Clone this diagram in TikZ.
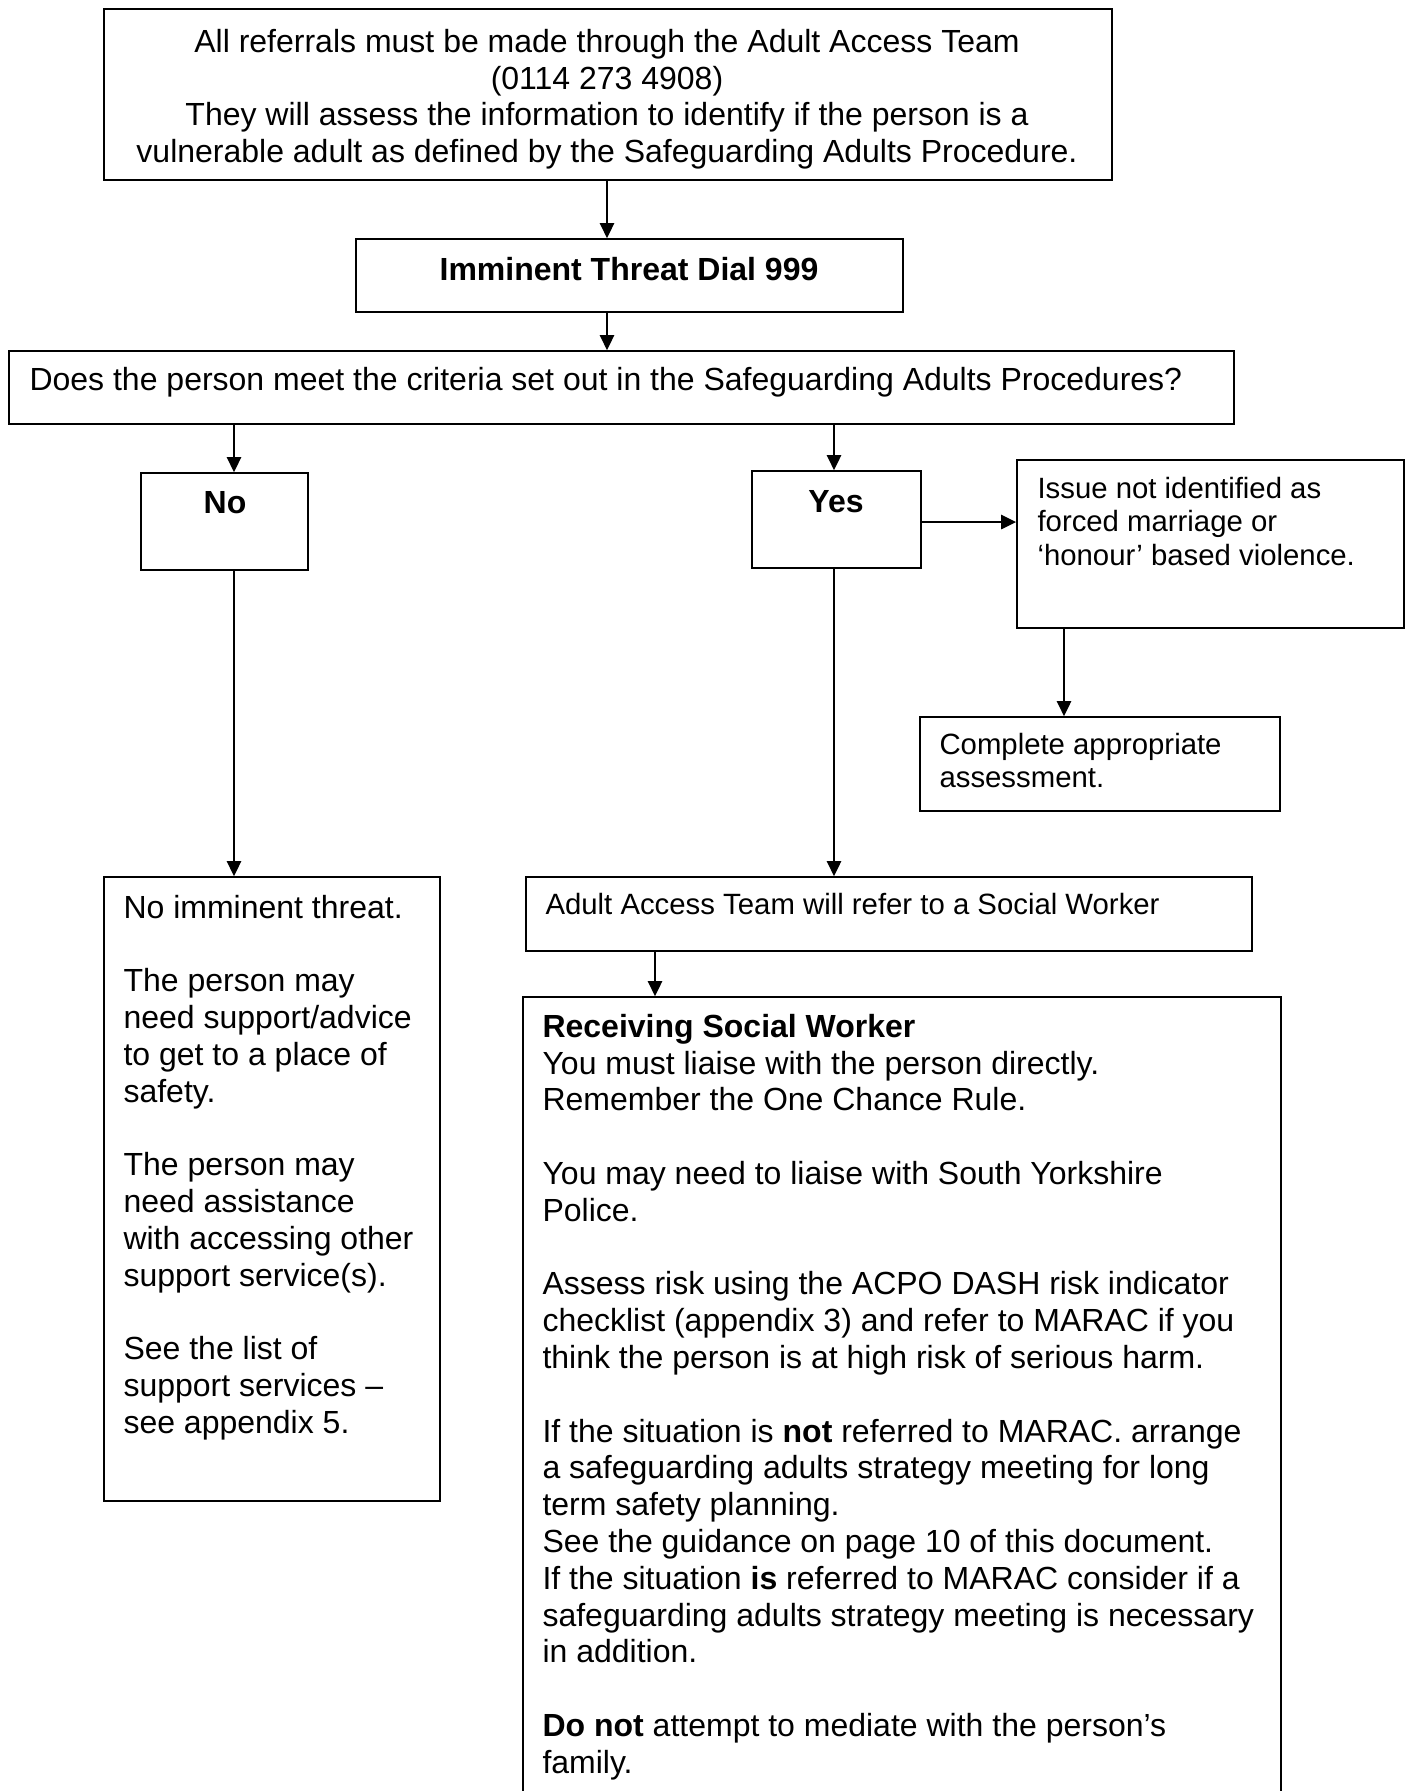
\documentclass[tikz,border=0pt]{standalone}
\usepackage{fontspec}
\setmainfont{Liberation Sans}
\usetikzlibrary{arrows.meta,fit}
\begin{document}
\begin{tikzpicture}[x=0.375pt,y=-0.375pt,
  box/.style={draw,line width=0.7pt,inner sep=0pt},
  txt/.style={inner sep=0pt,font=\fontsize{12}{13.8}\selectfont},
  stxt/.style={inner sep=0pt,font=\fontsize{11}{12.65}\selectfont},
  arr/.style={line width=0.6pt,-{Triangle[length=5.6pt,width=5.4pt]}}]
\useasboundingbox[fill=white] (0,0) rectangle (1411,1791);
% boxes
\node[box,fit={(104,9) (1112,180)}] (top) {};
\node[box,fit={(356,239) (903,312)}] (imm) {};
\node[box,fit={(9,351) (1234,424)}] (crit) {};
\node[box,fit={(141,473) (308,570)}] (no) {};
\node[box,fit={(752,471) (921,568)}] (yes) {};
\node[box,fit={(1017,460) (1404,628)}] (issue) {};
\node[box,fit={(920,717) (1280,811)}] (compl) {};
\node[box,fit={(104,877) (440,1501)}] (noimm) {};
\node[box,fit={(526,877) (1252,951)}] (aat) {};
\node[box,fit={(523,997) (1281,1810)}] (rsw) {};
% texts
\node[txt,anchor=north,align=center] (ttop) at (607,26)
  {\strut All referrals must be made through the Adult Access Team\\
   (0114 273 4908)\\
   They will assess the information to identify if the person is a\\
   vulnerable adult as defined by the Safeguarding Adults Procedure.};
\node[txt,anchor=base,font=\fontsize{12}{13.8}\selectfont\bfseries] (timm) at (629,280) {Imminent Threat Dial 999};
\node[txt,anchor=base west] (tcrit) at (29,390) {Does the person meet the criteria set out in the Safeguarding Adults Procedures?};
\node[txt,anchor=base,font=\fontsize{12}{13.8}\selectfont\bfseries] (tno) at (225,513) {No};
\node[txt,anchor=base,font=\fontsize{12}{13.8}\selectfont\bfseries] (tyes) at (836,512) {Yes};
\node[stxt,anchor=north west,align=left] (tissue) at (1037,474)
  {\strut Issue not identified as\\ forced marriage or\\ ‘honour’ based violence.};
\node[stxt,anchor=north west,align=left] (tcompl) at (939,730)
  {\strut Complete appropriate\\ assessment.};
\node[txt,anchor=north west,align=left] (tnoimm) at (123,892)
  {\strut No imminent threat.\\[13.8pt]
   The person may\\
   need support/advice\\
   to get to a place of\\
   safety.\\[13.8pt]
   The person may\\
   need assistance\\
   with accessing other\\
   support service(s).\\[13.8pt]
   See the list of\\
   support services –\\
   see appendix 5.};
\node[stxt,anchor=base west] (taat) at (545,914) {Adult Access Team will refer to a Social Worker};
\node[txt,anchor=north west,align=left] (trsw) at (542,1011)
  {\strut\textbf{Receiving Social Worker}\\
   You must liaise with the person directly.\\
   Remember the One Chance Rule.\\[13.8pt]
   You may need to liaise with South Yorkshire\\
   Police.\\[13.8pt]
   Assess risk using the ACPO DASH risk indicator\\
   checklist (appendix 3) and refer to MARAC if you\\
   think the person is at high risk of serious harm.\\[13.8pt]
   If the situation is \textbf{not} referred to MARAC. arrange\\
   a safeguarding adults strategy meeting for long\\
   term safety planning.\\
   See the guidance on page 10 of this document.\\
   If the situation \textbf{is} referred to MARAC consider if a\\
   safeguarding adults strategy meeting is necessary\\
   in addition.\\[13.8pt]
   \textbf{Do not} attempt to mediate with the person’s\\
   family.};
% connectors
\draw[arr] (607,0 |- top.south) -- (607,0 |- imm.north);
\draw[arr] (607,0 |- imm.south) -- (607,0 |- crit.north);
\draw[arr] (234,0 |- crit.south) -- (234,0 |- no.north);
\draw[arr] (834,0 |- crit.south) -- (834,0 |- yes.north);
\draw[arr] (yes.east |- 0,522) -- (issue.west |- 0,522);
\draw[arr] (1064,0 |- issue.south) -- (1064,0 |- compl.north);
\draw[arr] (234,0 |- no.south) -- (234,0 |- noimm.north);
\draw[arr] (834,0 |- yes.south) -- (834,0 |- aat.north);
\draw[arr] (655,0 |- aat.south) -- (655,0 |- rsw.north);
\end{tikzpicture}
\end{document}
